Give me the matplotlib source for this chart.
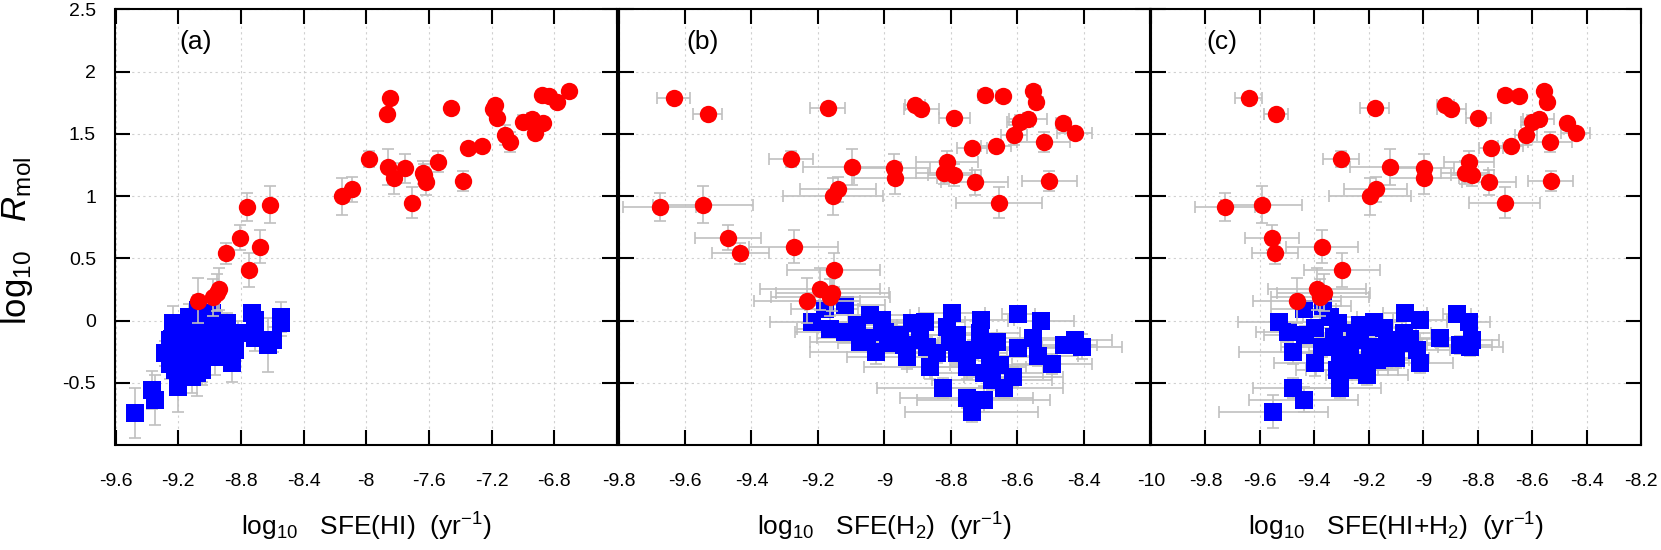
import matplotlib
matplotlib.use("Agg")
import matplotlib.pyplot as plt

plt.rcParams['font.family'] = ['Liberation Sans', 'DejaVu Sans']
plt.rcParams['mathtext.fontset'] = 'custom'
plt.rcParams['mathtext.rm'] = 'Liberation Sans'
plt.rcParams['mathtext.it'] = 'Liberation Sans:italic'
plt.rcParams['axes.unicode_minus'] = False

# ---------------- data ----------------
red_y = [1.785, 1.659, 1.710, 1.732, 1.697, 1.627, 1.812, 1.807, 1.844, 1.758,
         1.598, 1.616, 1.493, 1.584, 1.504, 1.432, 1.389, 1.400, 1.300, 1.234,
         1.223, 1.142, 1.276, 1.188, 1.169, 1.110, 1.124, 1.054, 0.998, 0.947,
         0.912, 0.931, 0.666, 0.540, 0.594, 0.404, 0.251, 0.224, 0.187, 0.160]
red_yerr = [0.03, 0.03, 0.03, 0.03, 0.03, 0.03, 0.03, 0.03, 0.03, 0.03,
            0.05, 0.05, 0.08, 0.03, 0.03, 0.08, 0.04, 0.04, 0.065, 0.145,
            0.115, 0.125, 0.085, 0.09, 0.09, 0.10, 0.08, 0.10, 0.15, 0.125,
            0.11, 0.15, 0.10, 0.085, 0.13, 0.135, 0.17, 0.15, 0.15, 0.18]
red_x_a = [-7.849, -7.870, -7.460, -7.179, -7.190, -7.164, -6.881, -6.833, -6.705, -6.786,
           -7.000, -6.945, -7.115, -6.871, -6.924, -7.083, -7.349, -7.264, -7.981, -7.864,
           -7.751, -7.824, -7.545, -7.636, -7.630, -7.619, -7.381, -8.089, -8.157, -7.707,
           -8.759, -8.616, -8.803, -8.895, -8.680, -8.750, -8.937, -8.955, -8.980, -9.076]
red_x_b = [-9.634, -9.532, -9.170, -8.908, -8.889, -8.789, -8.697, -8.644, -8.551, -8.542,
           -8.592, -8.567, -8.610, -8.462, -8.427, -8.520, -8.735, -8.664, -9.282, -9.097,
           -8.971, -8.967, -8.811, -8.821, -8.789, -8.728, -8.503, -9.140, -9.154, -8.655,
           -9.676, -9.546, -9.470, -9.433, -9.273, -9.152, -9.193, -9.157, -9.162, -9.233]
red_x_c = [-9.642, -9.542, -9.179, -8.919, -8.897, -8.798, -8.702, -8.650, -8.556, -8.548,
           -8.603, -8.576, -8.624, -8.472, -8.440, -8.536, -8.751, -8.680, -9.304, -9.123,
           -8.996, -8.996, -8.833, -8.849, -8.820, -8.760, -8.533, -9.175, -9.197, -8.702,
           -9.727, -9.594, -9.555, -9.544, -9.372, -9.299, -9.391, -9.366, -9.381, -9.464]
red_xerr = [0.049, 0.044, 0.053, 0.03, 0.053, 0.047, 0.02, 0.02, 0.02, 0.02,
            0.04, 0.057, 0.04, 0.02, 0.053, 0.08, 0.045, 0.045, 0.066, 0.148,
            0.11, 0.125, 0.093, 0.085, 0.08, 0.10, 0.083, 0.115, 0.15, 0.13,
            0.11, 0.15, 0.10, 0.085, 0.133, 0.14, 0.18, 0.17, 0.18, 0.16]

blue_a_x = [-9.475, -9.369, -9.348, -9.231, -9.284, -9.199, -9.220, -9.071, -9.082, -9.178,
            -9.114, -9.029, -8.986, -9.008, -8.965, -8.891, -8.816, -8.837, -8.859, -8.731,
            -8.710, -8.710, -8.625, -8.593, -8.544, -8.544, -9.199, -9.146, -8.923, -9.050,
            -9.252, -9.114, -9.130, -9.240, -9.160, -9.030, -9.100, -8.950,
            -9.190, -9.160, -9.050, -9.000, -9.120, -8.930, -9.250, -9.060]
blue_a_y = [-0.740, -0.558, -0.638, -0.023, -0.264, -0.531, -0.397, 0.085, -0.424, -0.130,
            -0.237, -0.049, 0.058, -0.210, -0.290, -0.023, -0.103, -0.237, -0.344, 0.058,
            0.004, -0.143, -0.197, -0.156, 0.031, -0.023, -0.237, -0.049, -0.130, -0.344,
            -0.156, -0.451, 0.030, -0.150, -0.330, -0.290, -0.120, -0.050,
            -0.050, -0.200, -0.400, -0.100, -0.320, -0.200, -0.350, 0.000]
blue_a_yerr = [0.20, 0.15, 0.20, 0.14, 0.10, 0.20, 0.10, 0.12, 0.18, 0.08,
               0.10, 0.08, 0.10, 0.10, 0.15, 0.08, 0.10, 0.12, 0.15, 0.07,
               0.07, 0.10, 0.22, 0.10, 0.12, 0.10, 0.10, 0.08, 0.10, 0.15,
               0.10, 0.13, 0.10, 0.10, 0.12, 0.12, 0.10, 0.08,
               0.08, 0.10, 0.12, 0.08, 0.12, 0.10, 0.12, 0.08]

blue_b_x = [-9.219, -9.180, -9.118, -9.163, -9.118, -9.081, -9.043, -9.008, -9.053, -9.025,
            -8.998, -8.952, -8.917, -8.877, -8.942, -8.892, -8.932, -8.872, -8.862, -8.797,
            -8.812, -8.802, -8.782, -8.822, -8.752, -8.709, -8.711, -8.732, -8.701, -8.681,
            -8.701, -8.752, -8.737, -8.701, -8.676, -8.651, -8.641, -8.611, -8.596, -8.596,
            -8.551, -8.529, -8.536, -8.496, -8.460, -8.425, -8.405, -8.842, -8.782, -8.661,
            -8.988, -9.073]
blue_b_y = [-0.009, 0.093, 0.125, -0.071, -0.089, -0.036, 0.045, 0.004, -0.143, -0.250,
            -0.089, -0.116, -0.022, -0.009, -0.196, -0.156, -0.290, -0.210, -0.370, 0.063,
            -0.049, -0.170, -0.263, -0.544, -0.370, 0.004, -0.103, -0.237, -0.210, -0.290,
            -0.424, -0.625, -0.732, -0.638, -0.477, -0.357, -0.544, -0.451, 0.053, -0.223,
            -0.143, -0.004, -0.285, -0.352, -0.196, -0.156, -0.210, -0.263, -0.116, -0.170,
            -0.183, -0.170]
blue_b_xerr = [0.125, 0.10, 0.12, 0.10, 0.15, 0.12, 0.12, 0.10, 0.15, 0.20,
               0.12, 0.15, 0.10, 0.12, 0.15, 0.12, 0.18, 0.15, 0.20, 0.10,
               0.10, 0.15, 0.15, 0.20, 0.18, 0.10, 0.12, 0.15, 0.12, 0.15,
               0.18, 0.20, 0.20, 0.20, 0.18, 0.15, 0.18, 0.15, 0.05, 0.12,
               0.10, 0.10, 0.12, 0.12, 0.10, 0.11, 0.12, 0.18, 0.12, 0.12,
               0.15, 0.15]
blue_b_yerr = [0.06, 0.05, 0.05, 0.06, 0.08, 0.05, 0.06, 0.05, 0.08, 0.10,
               0.06, 0.07, 0.05, 0.05, 0.08, 0.07, 0.10, 0.08, 0.10, 0.05,
               0.05, 0.07, 0.08, 0.08, 0.10, 0.06, 0.06, 0.08, 0.07, 0.08,
               0.10, 0.08, 0.08, 0.10, 0.08, 0.07, 0.08, 0.08, 0.05, 0.07,
               0.06, 0.06, 0.08, 0.08, 0.06, 0.06, 0.10, 0.08, 0.06, 0.07,
               0.07, 0.07]

blue_c_x = [-9.529, -9.440, -9.367, -9.496, -9.434, -9.477, -9.397, -9.342, -9.312, -9.373,
            -9.397, -9.330, -9.318, -9.306, -9.477, -9.440, -9.551, -9.269, -9.232, -9.183,
            -9.146, -9.232, -9.195, -9.171, -9.208, -9.134, -9.220, -9.281, -9.067, -9.012,
            -9.073, -9.073, -9.024, -9.012, -8.938, -8.877, -8.834, -8.867, -8.821, -8.828,
            -9.134, -9.306, -9.244, -9.122,
            -9.250, -9.160, -9.100, -9.300, -9.050, -9.200]
blue_c_y = [-0.009, 0.090, 0.117, -0.089, -0.116, -0.250, -0.063, 0.031, -0.022, -0.210,
            -0.344, -0.130, -0.397, -0.544, -0.544, -0.638, -0.732, -0.263, -0.036, -0.009,
            -0.063, -0.156, -0.210, -0.317, -0.437, -0.303, -0.344, -0.397, 0.058, 0.004,
            -0.103, -0.183, -0.237, -0.344, -0.143, 0.050, -0.009, -0.196, -0.156, -0.215,
            -0.156, -0.263, -0.397, -0.210,
            -0.100, -0.250, -0.300, -0.200, -0.150, -0.050]
blue_c_xerr = [0.15, 0.12, 0.10, 0.12, 0.15, 0.20, 0.12, 0.10, 0.10, 0.15,
               0.15, 0.12, 0.15, 0.15, 0.15, 0.20, 0.20, 0.15, 0.10, 0.12,
               0.12, 0.12, 0.12, 0.12, 0.15, 0.12, 0.15, 0.15, 0.08, 0.10,
               0.10, 0.12, 0.12, 0.12, 0.12, 0.05, 0.08, 0.12, 0.10, 0.12,
               0.12, 0.15, 0.15, 0.12,
               0.12, 0.12, 0.12, 0.15, 0.10, 0.12]
blue_c_yerr = [0.06, 0.05, 0.05, 0.08, 0.07, 0.10, 0.06, 0.05, 0.05, 0.08,
               0.10, 0.07, 0.10, 0.08, 0.08, 0.10, 0.13, 0.08, 0.05, 0.05,
               0.06, 0.07, 0.08, 0.08, 0.08, 0.08, 0.08, 0.08, 0.05, 0.05,
               0.06, 0.07, 0.08, 0.08, 0.07, 0.05, 0.06, 0.07, 0.06, 0.07,
               0.07, 0.08, 0.08, 0.07,
               0.06, 0.08, 0.08, 0.07, 0.06, 0.06]

y_ticks = [-0.5, 0.0, 0.5, 1.0, 1.5, 2.0, 2.5]
y_ticklabels = ['-0.5', '0', '0.5', '1', '1.5', '2', '2.5']

xt_a = [-9.6, -9.2, -8.8, -8.4, -8.0, -7.6, -7.2, -6.8, -6.4]
xl_a = ['-9.6', '-9.2', '-8.8', '-8.4', '-8', '-7.6', '-7.2', '-6.8', '']
xt_b = [-9.8, -9.6, -9.4, -9.2, -9.0, -8.8, -8.6, -8.4, -8.2]
xl_b = ['-9.8', '-9.6', '-9.4', '-9.2', '-9', '-8.8', '-8.6', '-8.4', '']
xt_c = [-10.0, -9.8, -9.6, -9.4, -9.2, -9.0, -8.8, -8.6, -8.4, -8.2]
xl_c = ['-10', '-9.8', '-9.6', '-9.4', '-9.2', '-9', '-8.8', '-8.6', '-8.4', '-8.2']

xlabels = [r'log$_{10}$   SFE(HI)  (yr$^{-1}$)',
           r'log$_{10}$   SFE(H$_2$)  (yr$^{-1}$)',
           r'log$_{10}$   SFE(HI+H$_2$)  (yr$^{-1}$)']
panel_tags = ['(a)', '(b)', '(c)']

# ---------------- figure ----------------
W, H = 1661, 550
fig = plt.figure(figsize=(W / 100, H / 100), dpi=100)
bot_px, top_px = 445.0, 9.3
ax_h = (bot_px - top_px) / H
ax_b = 1 - bot_px / H
lefts = [115.5, 618.6, 1151.0]
rights = [617.0, 1150.0, 1641.3]
axes = [fig.add_axes([l / W, ax_b, (r - l) / W, ax_h]) for l, r in zip(lefts, rights)]

ebar_color = '#c0c0c0'
RED = '#ff0000'
BLUE = '#0000ff'
msz = 12.5

datasets = [
    (red_x_a, None, blue_a_x, blue_a_y, None, blue_a_yerr, (-9.6, -6.4), xt_a, xl_a),
    (red_x_b, red_xerr, blue_b_x, blue_b_y, blue_b_xerr, blue_b_yerr, (-9.8, -8.2), xt_b, xl_b),
    (red_x_c, red_xerr, blue_c_x, blue_c_y, blue_c_xerr, blue_c_yerr, (-10.0, -8.2), xt_c, xl_c),
]
tag_x = [0.16, 0.158, 0.145]

for i, (ax, ds) in enumerate(zip(axes, datasets)):
    rx, rxe, bx, by, bxe, bye, xlim, xt, xl = ds
    ax.errorbar(bx, by, xerr=bxe, yerr=bye, fmt='none', ecolor=ebar_color,
                elinewidth=1.2, capsize=4.5, capthick=1.2, zorder=2)
    ax.plot(bx, by, 's', color=BLUE, markersize=msz, markeredgewidth=0, zorder=3)
    ax.errorbar(rx, red_y, xerr=rxe, yerr=red_yerr, fmt='none', ecolor=ebar_color,
                elinewidth=1.2, capsize=4.5, capthick=1.2, zorder=4)
    ax.plot(rx, red_y, 'o', color=RED, markersize=msz, markeredgewidth=0, zorder=5)

    ax.set_xlim(*xlim)
    ax.set_ylim(-1.0, 2.5)
    ax.set_xticks(xt)
    ax.set_xticklabels(xl)
    ax.set_yticks(y_ticks)
    if i == 0:
        ax.set_yticklabels(y_ticklabels)
    else:
        ax.set_yticklabels([])
    ax.grid(True, color='#d0d0d0', linestyle=(0, (2, 3)), linewidth=0.8)
    ax.set_axisbelow(True)
    ax.tick_params(axis='both', direction='in', length=10.8, width=1.5,
                   top=True, right=True, labelsize=14)
    ax.tick_params(axis='x', pad=20)
    ax.tick_params(axis='y', pad=14)
    for s in ax.spines.values():
        s.set_linewidth(1.5)
        s.set_zorder(10)
    ax.set_xlabel(xlabels[i], fontsize=19)
    ax.xaxis.set_label_coords(0.5, -(526.7 - bot_px) / (bot_px - top_px))
    ax.xaxis.label.set_va('center')
    ax.text(tag_x[i], 0.925, panel_tags[i], transform=ax.transAxes,
            ha='center', va='center', fontsize=19)

axes[0].set_ylabel(r'log$_{10}$   $R_{\mathrm{mol}}$', fontsize=25)
axes[0].yaxis.set_label_coords((17 - lefts[0]) / (rights[0] - lefts[0]),
                               (bot_px - 241) / (bot_px - top_px))
axes[0].yaxis.label.set_va('center')

fig.savefig('out.png', dpi=100)
